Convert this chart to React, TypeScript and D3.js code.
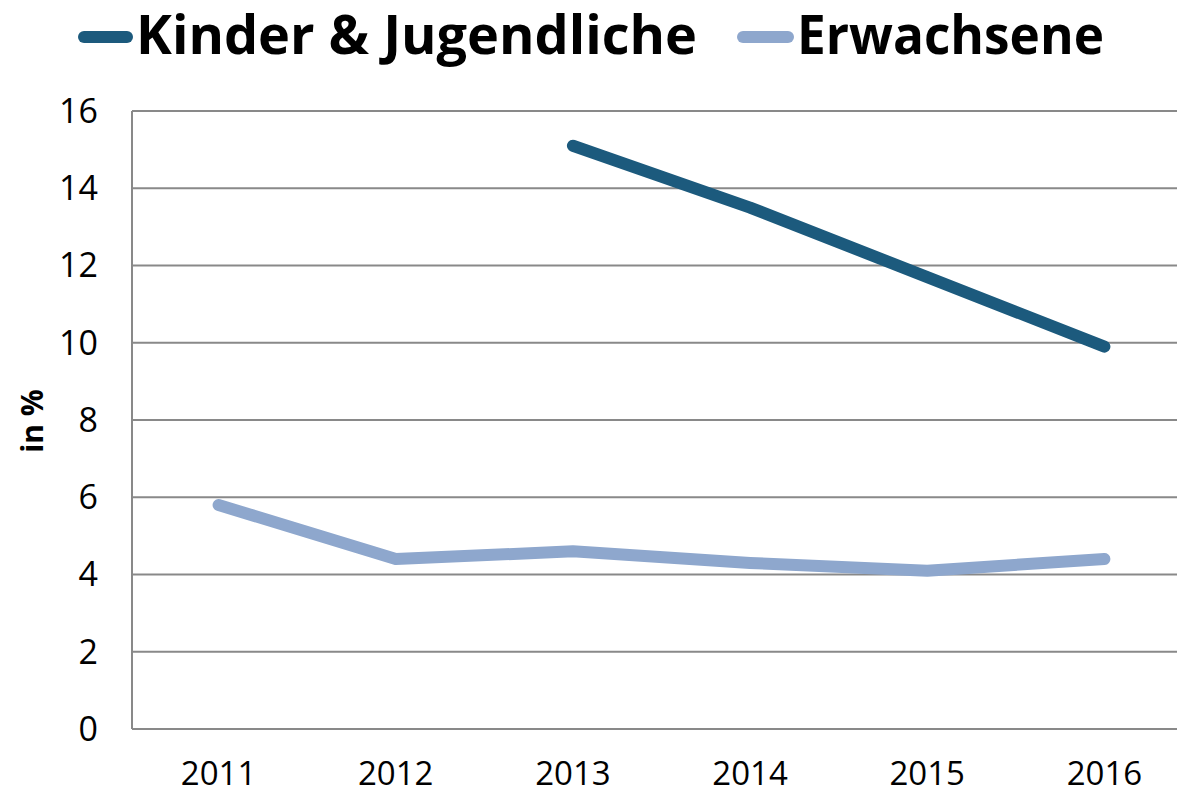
import React from "react";
import * as d3 from "d3";

const years = ["2011", "2012", "2013", "2014", "2015", "2016"];
const kinder: (number | null)[] = [null, null, 15.1, 13.5, 11.7, 9.9];
const erwachsene: (number | null)[] = [5.8, 4.4, 4.6, 4.3, 4.1, 4.4];
const yTicks = [0, 2, 4, 6, 8, 10, 12, 14, 16];
const seriesNames = ["Kinder & Jugendliche", "Erwachsene"];
const seriesColors = ["#1C5A7D", "#8EA7CD"];

const W = 1177;
const H = 792;
const FONT = "'Open Sans', 'Noto Sans', sans-serif";

export default function App() {
  const x = d3.scaleBand<string>().domain(years).range([130, 1193]).padding(0);
  const y = d3.scaleLinear().domain([0, 16]).range([729, 111]);
  const cx = (d: string) => (x(d) as number) + x.bandwidth() / 2;

  const line = d3
    .line<number | null>()
    .defined((d) => d !== null)
    .x((_, i) => cx(years[i]))
    .y((d) => y(d as number));

  const series = [kinder, erwachsene];

  return (
    <svg
      width={W}
      height={H}
      style={{ position: "absolute", left: 0, top: 0, background: "#fff" }}
    >
      {yTicks.map((t) => (
        <g key={t}>
          <line x1={132} x2={W} y1={y(t)} y2={y(t)} stroke="#898989" strokeWidth={2} />
          <text
            x={98}
            y={y(t)}
            dy="0.35em"
            textAnchor="end"
            fontFamily={FONT}
            fontSize={34}
            fill="#000"
          >
            {t}
          </text>
        </g>
      ))}
      <line x1={132} x2={132} y1={y(16)} y2={y(0)} stroke="#898989" strokeWidth={2} />
      {years.map((yr) => (
        <text
          key={yr}
          x={cx(yr)}
          y={785}
          textAnchor="middle"
          fontFamily={FONT}
          fontSize={33}
          fill="#000"
        >
          {yr}
        </text>
      ))}
      <text
        transform="translate(43,421) rotate(-90)"
        textAnchor="middle"
        fontFamily={FONT}
        fontWeight="bold"
        fontSize={30}
        fill="#000"
      >
        in %
      </text>
      {series.map((s, i) => (
        <path
          key={i}
          d={line(s) || ""}
          fill="none"
          stroke={seriesColors[i]}
          strokeWidth={12}
          strokeLinecap="round"
          strokeLinejoin="round"
        />
      ))}
      {[
        { x1: 84, x2: 127, tx: 136, len: 561 },
        { x1: 743, x2: 788, tx: 797, len: 307 },
      ].map((l, i) => (
        <g key={i}>
          <line
            x1={l.x1}
            x2={l.x2}
            y1={37}
            y2={37}
            stroke={seriesColors[i]}
            strokeWidth={12}
            strokeLinecap="round"
          />
          <text
            x={l.tx}
            y={54}
            fontFamily={FONT}
            fontWeight="bold"
            fontSize={54}
            textLength={l.len}
            lengthAdjust="spacingAndGlyphs"
            fill="#000"
          >
            {seriesNames[i]}
          </text>
        </g>
      ))}
    </svg>
  );
}
